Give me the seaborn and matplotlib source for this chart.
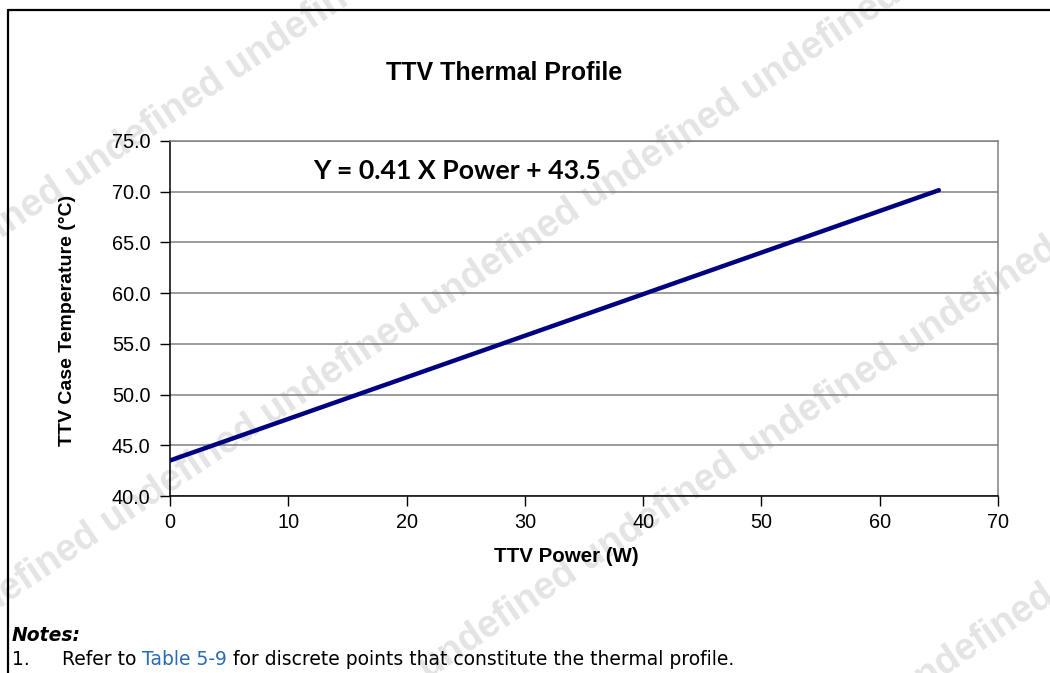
import matplotlib
matplotlib.use("Agg")
import matplotlib.pyplot as plt
import seaborn as sns
import pandas as pd
from matplotlib.lines import Line2D

# data (two end points of the profile line)
power_w = [0, 65]
case_temp_c = [43.5, 70.15]
x_ticks = [0, 10, 20, 30, 40, 50, 60, 70]
y_ticks = [40.0, 45.0, 50.0, 55.0, 60.0, 65.0, 70.0, 75.0]

df = pd.DataFrame({'power': power_w, 'temp': case_temp_c})

sns.set_style('white')
plt.rcParams['font.family'] = ['Liberation Sans', 'DejaVu Sans']
plt.rcParams['text.color'] = 'black'
plt.rcParams['axes.labelcolor'] = 'black'
plt.rcParams['xtick.color'] = 'black'
plt.rcParams['ytick.color'] = 'black'

W, H = 1050, 673
fig = plt.figure(figsize=(W / 100, H / 100), dpi=100)


def px(x, y):
    # pixel position -> figure fraction
    return x / W, 1 - y / H


# faint watermark lines behind everything
wm = ('undefined ' * 9).strip()
for bx, by in [(70 - 155, 192 + 105), (415 - 3 * 155, 327 + 3 * 105),
               (738 - 2 * 155, 470 + 2 * 105), (905, 703)]:
    fx, fy = px(bx, by)
    fig.text(fx, fy, wm, rotation=34, rotation_mode='anchor', ha='left',
             va='baseline', fontsize=27.5, fontweight='bold', color='#e4e4e4',
             family='Liberation Sans', zorder=-5)

# page border (top and left)
fig.add_artist(Line2D([8 / W, 1.0], [1 - 10 / H, 1 - 10 / H], color='black', lw=1.6))
fig.add_artist(Line2D([8 / W, 8 / W], [0, 1 - 10 / H], color='black', lw=1.6))

ax = fig.add_axes([170 / W, 1 - 496 / H, (998 - 170) / W, (496 - 141) / H])
ax.set_facecolor('none')
ax.set_zorder(1)

sns.lineplot(data=df, x='power', y='temp', ax=ax, color='#000080', lw=3.2,
             solid_capstyle='round', zorder=5)

ax.set_xlim(0, 70)
ax.set_ylim(40, 75)
ax.set_xticks(x_ticks)
ax.set_yticks(y_ticks)
ax.set_yticklabels([f'{v:.1f}' for v in y_ticks])
ax.yaxis.grid(True, color='#808080', lw=1.1)
ax.xaxis.grid(False)
ax.tick_params(axis='both', direction='out', length=7, width=1, color='black',
               labelsize=14.3, left=True, bottom=True)
ax.tick_params(axis='y', pad=7)
ax.tick_params(axis='x', pad=5)
for s in ['top', 'right']:
    ax.spines[s].set_color('#808080')
    ax.spines[s].set_linewidth(1.1)
for s in ['left', 'bottom']:
    ax.spines[s].set_color('black')
    ax.spines[s].set_linewidth(1.1)

ax.set_xlabel('TTV Power (W)', fontsize=14.8, fontweight='bold')
ax.set_ylabel('TTV Case Temperature (\u00b0C)', fontsize=14, fontweight='bold')
ax.xaxis.set_label_coords((566 - 170) / (998 - 170), -(557 - 496) / (496 - 141))
ax.yaxis.set_label_coords(-(170 - 68) / (998 - 170), (496 - 320) / (496 - 141))
ax.xaxis.label.set_va('center')
ax.yaxis.label.set_va('center')

ax.text(12.1, 72.0, 'Y = 0.41 X Power + 43.5', fontsize=19.2, fontweight='bold',
        family='Lato', va='center', ha='left')

tx, ty = px(504, 73)
fig.text(tx, ty, 'TTV Thermal Profile', fontsize=18, fontweight='bold',
         family='Liberation Sans', ha='center', va='center')

# notes below the chart
fs = 13.5
nx, ny = px(12, 641)
fig.text(nx, ny, 'Notes:', fontsize=fs, fontweight='bold', style='italic',
         family='DejaVu Sans', va='baseline')
n1x, n1y = px(12, 665)
fig.text(n1x, n1y, '1.', fontsize=fs, family='DejaVu Sans', va='baseline')
rx, ry = px(62, 665)
t1 = fig.text(rx, ry, 'Refer to ', fontsize=fs, family='DejaVu Sans', va='baseline')
t2 = plt.annotate('Table 5-9', xy=(1, 0), xycoords=t1, fontsize=fs,
                  family='DejaVu Sans', color='#2a6db0', va='bottom')
plt.annotate(' for discrete points that constitute the thermal profile.', xy=(1, 0),
             xycoords=t2, fontsize=fs, family='DejaVu Sans', va='bottom')

fig.savefig('out.png', dpi=100)
